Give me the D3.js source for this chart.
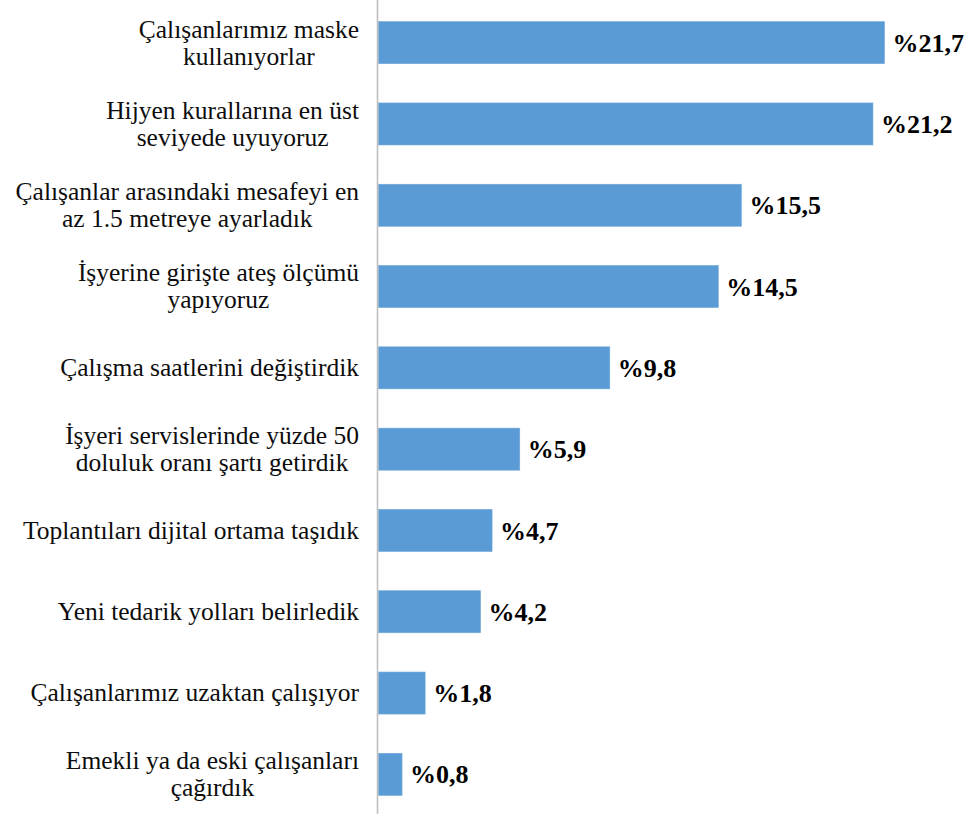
<!DOCTYPE html>
<html><head><meta charset="utf-8">
<script src="https://cdn.jsdelivr.net/npm/d3@7"></script>
<style>html,body{margin:0;padding:0;background:#fff;}svg{display:block;}</style>
</head><body>
<script>
const categories = [
  ["Çalışanlarımız maske", "kullanıyorlar"],
  ["Hijyen kurallarına en üst", "seviyede uyuyoruz"],
  ["Çalışanlar arasındaki mesafeyi en", "az 1.5 metreye ayarladık"],
  ["İşyerine girişte ateş ölçümü", "yapıyoruz"],
  ["Çalışma saatlerini değiştirdik"],
  ["İşyeri servislerinde yüzde 50", "doluluk oranı şartı getirdik"],
  ["Toplantıları dijital ortama taşıdık"],
  ["Yeni tedarik yolları belirledik"],
  ["Çalışanlarımız uzaktan çalışıyor"],
  ["Emekli ya da eski çalışanları", "çağırdık"]
];
const values = [21.7, 21.2, 15.5, 14.5, 9.8, 5.9, 4.7, 4.2, 1.8, 0.8];
const valueLabels = ["%21,7", "%21,2", "%15,5", "%14,5", "%9,8", "%5,9", "%4,7", "%4,2", "%1,8", "%0,8"];

const W = 964, H = 814;
const svg = d3.select("body").append("svg").attr("width", W).attr("height", H);
const FONT = "Liberation Serif";

const axisX = 377.5;
const x = d3.scaleLinear().domain([-0.22, 21.7]).range([axisX + 1, 884.5]);
const y = d3.scaleBand().domain(d3.range(categories.length)).range([2, 815])
  .paddingInner(0.483).paddingOuter(0.2415);

// bars
svg.append("g").selectAll("rect").data(values).join("rect")
  .attr("x", x(-0.22))
  .attr("y", (d, i) => y(i))
  .attr("width", d => x(d) - x(-0.22))
  .attr("height", y.bandwidth())
  .attr("fill", "#5B9BD5")
  .attr("stroke", "#6FA8DC").attr("stroke-width", 0.6);

// axis line
svg.append("line").attr("x1", axisX).attr("x2", axisX).attr("y1", 0).attr("y2", H)
  .attr("stroke", "#BFBFBF").attr("stroke-width", 1.6);

// value labels
svg.append("g").selectAll("text").data(values).join("text")
  .attr("x", d => x(d) + 8)
  .attr("y", (d, i) => y(i) + y.bandwidth() / 2)
  .attr("dy", "0.35em")
  .style("font-family", FONT)
  .style("font-weight", "bold")
  .style("font-size", "26px")
  .attr("fill", "#000")
  .text((d, i) => valueLabels[i]);

// category labels
const labelRight = 359, lineH = 27;
const lg = svg.append("g");
categories.forEach((lines, i) => {
  const cy = y(i) + y.bandwidth() / 2;
  const texts = lines.map((t, k) => lg.append("text")
    .style("font-family", FONT)
    .style("font-size", "25.5px")
    .attr("fill", "#0d0d0d")
    .attr("text-anchor", "middle")
    .attr("dy", "0.33em")
    .attr("y", cy + (k - (lines.length - 1) / 2) * lineH)
    .text(t));
  const maxW = d3.max(texts, t => t.node().getComputedTextLength());
  texts.forEach(t => t.attr("x", labelRight - maxW / 2));
});
</script>
</body></html>
